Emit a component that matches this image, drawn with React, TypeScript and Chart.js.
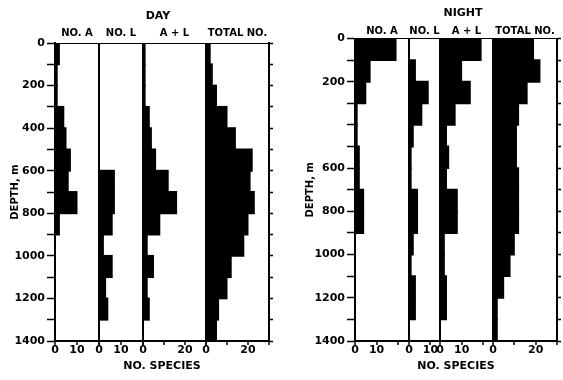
import React, { useEffect, useRef } from 'react';
import { Chart, registerables } from 'chart.js';

Chart.register(...registerables);

// Depth bins (m): centres of 100 m bins from 0 to 1400
const depthMid = [50, 150, 250, 350, 450, 550, 650, 750, 850, 950, 1050, 1150, 1250, 1350];

// DAY
const dayNoA = [2, 1, 1, 4, 5, 7, 6, 10, 2, 0, 0, 0, 0, 0];
const dayNoL = [0, 0, 0, 0, 0, 0, 7, 7, 6, 2, 6, 3, 4, 0];
const dayAL = [1, 1, 1, 3, 4, 6, 12, 16, 8, 2, 5, 2, 3, 0];
const dayTotal = [2, 3, 5, 10, 14, 22, 21, 23, 20, 18, 12, 10, 6, 5];

// NIGHT
const nightNoA = [19, 7, 5, 1, 1, 2, 2, 4, 4, 0, 0, 0, 0, 0];
const nightNoL = [0, 3, 9, 6, 2, 1, 1, 4, 4, 2, 1, 3, 3, 0];
const nightAL = [19, 10, 14, 7, 3, 4, 3, 8, 8, 2, 2, 3, 3, 0];
const nightTotal = [19, 22, 16, 12, 11, 11, 12, 12, 12, 10, 8, 5, 2, 2];

const subPanelLabels = ['NO. A', 'NO. L', 'A + L', 'TOTAL NO.'];
const dayAxisMax = [20, 20, 30, 30];
const nightAxisMax = [25, 14.5, 24.5, 30];
const dayLabeledTicks = [[0, 10], [0, 10], [0, 20], [0, 20]];
const nightLabeledTicks = [[0, 10], [0, 10], [0, 10], [0, 20]];
const dayDepthLabels = [0, 200, 400, 600, 800, 1000, 1200, 1400];
const nightDepthLabels = [0, 200, 600, 800, 1000, 1200, 1400];

const FONT = "'DejaVu Sans', sans-serif";

type PanelCfg = {
  title: string;
  series: number[][];
  axisMax: number[];
  labeled: number[][];
  depthLabels: number[];
  weights: number[];
  leftW: number;
  rightW: number;
  titlePadTop: number;
  titlePadBottom: number;
  topH: number;
  topTitlePad: number;
  depthTitlePad: number;
};

const dayCfg: PanelCfg = {
  title: 'DAY',
  series: [dayNoA, dayNoL, dayAL, dayTotal],
  axisMax: dayAxisMax,
  labeled: dayLabeledTicks,
  depthLabels: dayDepthLabels,
  weights: [44, 44, 63, 63],
  leftW: 55,
  rightW: 47,
  titlePadTop: 10,
  titlePadBottom: 4,
  topH: 15.8,
  topTitlePad: 0,
  depthTitlePad: 9,
};

const nightCfg: PanelCfg = {
  title: 'NIGHT',
  series: [nightNoA, nightNoL, nightAL, nightTotal],
  axisMax: nightAxisMax,
  labeled: nightLabeledTicks,
  depthLabels: nightDepthLabels,
  weights: [54, 31, 53, 64],
  leftW: 65,
  rightW: 79,
  titlePadTop: 7,
  titlePadBottom: 3,
  topH: 15.3,
  topTitlePad: 2,
  depthTitlePad: 14.5,
};

function makeConfig(p: PanelCfg): any {
  const tickFont = { family: FONT, size: 11, weight: 'bold' };
  const labelFont = { family: FONT, size: 10, weight: 'bold' };
  const bottomIds = ['xA', 'xL', 'xAL', 'xT'];
  const topIds = ['tA', 'tL', 'tAL', 'tT'];

  const scales: any = {
    y: {
      type: 'linear',
      position: 'left',
      reverse: true,
      min: 0,
      max: 1400,
      offset: false,
      ticks: {
        stepSize: 100,
        autoSkip: false,
        padding: 2,
        color: '#000',
        font: tickFont,
        callback: (v: number) => (p.depthLabels.includes(v) ? String(v) : ''),
      },
      grid: {
        offset: false,
        drawOnChartArea: false,
        drawTicks: true,
        tickLength: 8,
        tickColor: '#000',
        tickWidth: 1.5,
      },
      border: { display: true, color: '#000', width: 2 },
      title: {
        display: true,
        text: 'DEPTH, m',
        color: '#000',
        font: labelFont,
        padding: { top: p.depthTitlePad, bottom: 0 },
      },
      afterFit: (s: any) => {
        s.width = p.leftW;
      },
    },
    yR: {
      type: 'linear',
      position: 'right',
      reverse: true,
      min: 0,
      max: 1400,
      offset: false,
      ticks: { display: false, stepSize: 100, autoSkip: false },
      grid: {
        offset: false,
        drawOnChartArea: false,
        drawTicks: true,
        tickLength: 4,
        tickColor: '#000',
        tickWidth: 1.5,
      },
      border: { display: true, color: '#000', width: 2 },
      afterFit: (s: any) => {
        s.width = p.rightW;
      },
    },
  };

  bottomIds.forEach((id, k) => {
    scales[id] = {
      type: 'linear',
      position: 'bottom',
      stack: 'bottomStack',
      stackWeight: p.weights[k],
      min: 0,
      max: p.axisMax[k],
      ticks: {
        stepSize: 10,
        autoSkip: false,
        includeBounds: false,
        maxRotation: 0,
        padding: -1,
        color: '#000',
        font: tickFont,
        callback: (v: number) => (p.labeled[k].includes(v) ? String(v) : ''),
      },
      grid: {
        display: true,
        drawOnChartArea: true,
        drawTicks: true,
        tickLength: 4,
        tickColor: '#000',
        tickWidth: 1.5,
        color: (c: any) => (c.tick && c.tick.value === 0 ? '#000' : 'rgba(0,0,0,0)'),
        lineWidth: (c: any) => (c.tick && c.tick.value === 0 ? 2 : 0),
      },
      border: { display: true, color: '#000', width: 2 },
      afterFit: (s: any) => {
        s.height = 18;
      },
    };
  });

  topIds.forEach((id, k) => {
    scales[id] = {
      type: 'linear',
      position: 'top',
      stack: 'topStack',
      stackWeight: p.weights[k],
      weight: 4 - k,
      min: 0,
      max: p.axisMax[k],
      ticks: { display: false },
      grid: { display: false },
      border: { display: true, color: '#000', width: 1 },
      title: {
        display: true,
        text: subPanelLabels[k],
        color: '#000',
        font: labelFont,
        padding: { top: p.topTitlePad, bottom: 0 },
      },
      afterFit: (s: any) => {
        s.height = p.topH;
      },
    };
  });

  scales.xSpecies = {
    type: 'linear',
    position: 'bottom',
    weight: 5,
    min: 0,
    max: 1,
    ticks: { display: false },
    grid: { display: false },
    border: { display: false },
    title: {
      display: true,
      text: 'NO. SPECIES',
      color: '#000',
      font: tickFont,
      padding: { top: 0, bottom: 7.4 },
    },
    afterFit: (s: any) => {
      s.height = 21;
    },
  };

  const datasets = p.series.map((vals, k) => ({
    type: 'bar',
    label: subPanelLabels[k],
    data: vals.map((v, i) => ({ x: v, y: depthMid[i] })),
    xAxisID: bottomIds[k],
    yAxisID: 'y',
    backgroundColor: '#000',
    borderWidth: 0,
    barPercentage: 1,
    categoryPercentage: 1.04,
    inflateAmount: 0.5,
    grouped: false,
  }));

  return {
    type: 'bar',
    data: { datasets },
    options: {
      indexAxis: 'y',
      responsive: false,
      maintainAspectRatio: false,
      animation: false,
      layout: { autoPadding: false, padding: 0 },
      plugins: {
        legend: { display: false },
        tooltip: { enabled: false },
        title: {
          display: true,
          text: p.title,
          fullSize: true,
          color: '#000',
          font: tickFont,
          padding: { top: p.titlePadTop, bottom: p.titlePadBottom },
        },
      },
      scales,
    },
  };
}

export default function App() {
  const dayRef = useRef<HTMLCanvasElement>(null);
  const nightRef = useRef<HTMLCanvasElement>(null);

  useEffect(() => {
    const c1 = new Chart(dayRef.current as HTMLCanvasElement, makeConfig(dayCfg));
    const c2 = new Chart(nightRef.current as HTMLCanvasElement, makeConfig(nightCfg));
    return () => {
      c1.destroy();
      c2.destroy();
    };
  }, []);

  return (
    <div
      style={{
        position: 'fixed',
        left: 0,
        top: 0,
        width: 563,
        height: 380,
        overflow: 'hidden',
        background: '#fff',
      }}
    >
      <canvas ref={dayRef} width={316} height={380} style={{ position: 'absolute', left: 0, top: 0 }} />
      <canvas ref={nightRef} width={346} height={380} style={{ position: 'absolute', left: 290, top: 0 }} />
    </div>
  );
}
